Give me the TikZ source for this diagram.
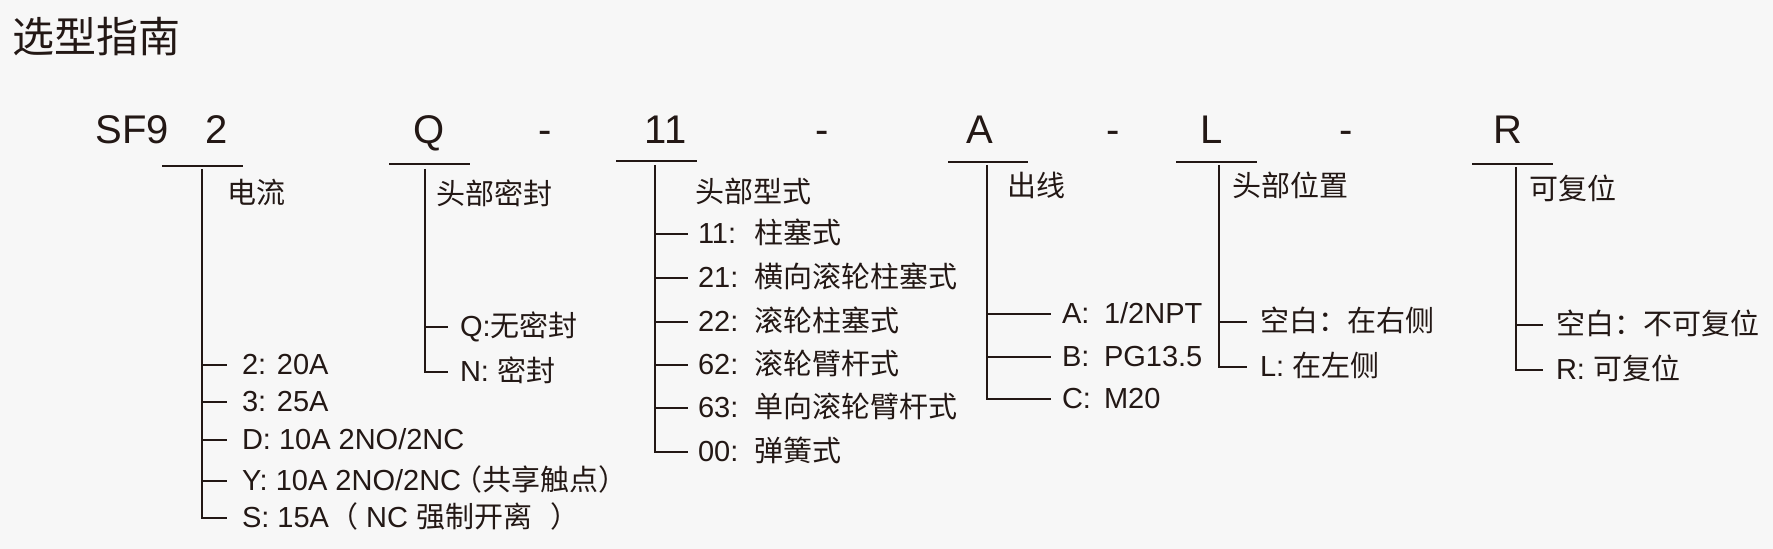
\documentclass[tikz,border=0pt]{standalone}
\usepackage{fontspec}
\setmainfont{Liberation Sans}
\newfontfamily\cjk{Noto Sans CJK SC}
\definecolor{ink}{RGB}{35,24,21}
\definecolor{bg}{RGB}{247,247,247}
\begin{document}
\begin{tikzpicture}[x=0.5pt,y=-0.5pt,
  every node/.style={inner sep=0pt, outer sep=0pt, text=ink},
  hdr/.style={anchor=base, font=\fontsize{20pt}{24pt}\selectfont},
  lbl/.style={anchor=base west, font=\fontsize{14.5pt}{17pt}\selectfont},
  tree/.style={draw=ink, line width=1pt, line join=miter},
]
\fill[bg] (0,0) rectangle (1773,549);
\useasboundingbox (0,0) rectangle (1773,549);

% title
\node[anchor=base west, font=\fontsize{21pt}{25pt}\selectfont\cjk] (title) at (12,53) {选型指南};

% header code
\node[hdr] (sf9) at (132,144) {SF9};
\node[hdr] (h2) at (216.5,144) {2};
\node[hdr] (hQ) at (429,144) {Q};
\node[hdr] (d1) at (545,144) {-};
\node[hdr] (h11) at (665.5,144) {11};
\node[hdr] (d2) at (822,144) {-};
\node[hdr] (hA) at (979.5,144) {A};
\node[hdr] (d3) at (1113.5,144) {-};
\node[hdr] (hL) at (1212,144) {L};
\node[hdr] (d4) at (1346.5,144) {-};
\node[hdr] (hR) at (1507.5,144) {R};

% underlines
\coordinate (u2a) at (162,166);   \coordinate (u2b) at (243,166);
\coordinate (uQa) at (389,164);   \coordinate (uQb) at (470,164);
\coordinate (u11a) at (616,161);  \coordinate (u11b) at (697,161);
\coordinate (uAa) at (948,162);   \coordinate (uAb) at (1028,162);
\coordinate (uLa) at (1176,162);  \coordinate (uLb) at (1257,162);
\coordinate (uRa) at (1472,164);  \coordinate (uRb) at (1553,164);
\draw[tree] (u2a) -- (u2b);
\draw[tree] (uQa) -- (uQb);
\draw[tree] (u11a) -- (u11b);
\draw[tree] (uAa) -- (uAb);
\draw[tree] (uLa) -- (uLb);
\draw[tree] (uRa) -- (uRb);

% ---------- tree 2 : current ----------
\node[lbl] (l2) at (227,204) {\cjk 电流};
\coordinate (t2) at (202,169); \coordinate (e2) at (227,0);
\coordinate (b21) at (202,365); \coordinate (b22) at (202,402);
\coordinate (b23) at (202,440); \coordinate (b24) at (202,481);
\coordinate (b25) at (202,518);
\node[lbl] (i21) at (242,375) {2: 20A};
\node[lbl] (i22) at (242,412) {3: 25A};
\node[lbl] (i23) at (242,450) {D: 10A 2NO/2NC};
\node[lbl] (i24) at (242,491) {Y: 10A 2NO/2NC\hspace{-4pt}{\cjk （共享触点）}};
\node[lbl] (i25) at (242,528) {S: 15A{\cjk （} NC {\cjk 强制开离}\hspace{0.35em} {\cjk ）}};
\draw[tree] (t2) -- (b25) -- (b25 -| e2);
\draw[tree] (b21) -- (b21 -| e2);
\draw[tree] (b22) -- (b22 -| e2);
\draw[tree] (b23) -- (b23 -| e2);
\draw[tree] (b24) -- (b24 -| e2);

% ---------- tree Q : head seal ----------
\node[lbl] (lQ) at (436,205) {\cjk 头部密封};
\coordinate (tQ) at (425,169); \coordinate (eQ) at (448,0);
\coordinate (bQ1) at (425,327); \coordinate (bQ2) at (425,372);
\node[lbl] (iQ1) at (460,337) {Q:{\cjk 无密封}};
\node[lbl] (iQ2) at (460,382) {N: {\cjk 密封}};
\draw[tree] (tQ) -- (bQ2) -- (bQ2 -| eQ);
\draw[tree] (bQ1) -- (bQ1 -| eQ);

% ---------- tree 11 : head type ----------
\node[lbl] (l11) at (695,203) {\cjk 头部型式};
\coordinate (t11) at (655,165); \coordinate (e11) at (688,0);
\coordinate (b111) at (655,234); \coordinate (b112) at (655,278);
\coordinate (b113) at (655,322); \coordinate (b114) at (655,365);
\coordinate (b115) at (655,408); \coordinate (b116) at (655,452);
\node[lbl] (i111) at (698,244) {\makebox[28pt][l]{11:}{\cjk 柱塞式}};
\node[lbl] (i112) at (698,288) {\makebox[28pt][l]{21:}{\cjk 横向滚轮柱塞式}};
\node[lbl] (i113) at (698,332) {\makebox[28pt][l]{22:}{\cjk 滚轮柱塞式}};
\node[lbl] (i114) at (698,375) {\makebox[28pt][l]{62:}{\cjk 滚轮臂杆式}};
\node[lbl] (i115) at (698,418) {\makebox[28pt][l]{63:}{\cjk 单向滚轮臂杆式}};
\node[lbl] (i116) at (698,462) {\makebox[28pt][l]{00:}{\cjk 弹簧式}};
\draw[tree] (t11) -- (b116) -- (b116 -| e11);
\draw[tree] (b111) -- (b111 -| e11);
\draw[tree] (b112) -- (b112 -| e11);
\draw[tree] (b113) -- (b113 -| e11);
\draw[tree] (b114) -- (b114 -| e11);
\draw[tree] (b115) -- (b115 -| e11);

% ---------- tree A : cable outlet ----------
\node[lbl] (lA) at (1007,197) {\cjk 出线};
\coordinate (tA) at (987,165); \coordinate (eA) at (1051,0);
\coordinate (bA1) at (987,314); \coordinate (bA2) at (987,357);
\coordinate (bA3) at (987,399);
\node[lbl] (iA1) at (1062,324) {\makebox[21pt][l]{A:}1/2NPT};
\node[lbl] (iA2) at (1062,367) {\makebox[21pt][l]{B:}PG13.5};
\node[lbl] (iA3) at (1062,409) {\makebox[21pt][l]{C:}M20};
\draw[tree] (tA) -- (bA3) -- (bA3 -| eA);
\draw[tree] (bA1) -- (bA1 -| eA);
\draw[tree] (bA2) -- (bA2 -| eA);

% ---------- tree L : head position ----------
\node[lbl] (lL) at (1232,197) {\cjk 头部位置};
\coordinate (tL) at (1219,165); \coordinate (eL) at (1247,0);
\coordinate (bL1) at (1219,322); \coordinate (bL2) at (1219,367);
\node[lbl] (iL1) at (1260,332) {\cjk 空白：在右侧};
\node[lbl] (iL2) at (1260,377) {L: {\cjk 在左侧}};
\draw[tree] (tL) -- (bL2) -- (bL2 -| eL);
\draw[tree] (bL1) -- (bL1 -| eL);

% ---------- tree R : reset ----------
\node[lbl] (lR) at (1529,200) {\cjk 可复位};
\coordinate (tR) at (1516,167); \coordinate (eR) at (1543,0);
\coordinate (bR1) at (1516,325); \coordinate (bR2) at (1516,370);
\node[lbl] (iR1) at (1556,335) {\cjk 空白：不可复位};
\node[lbl] (iR2) at (1556,380) {R: {\cjk 可复位}};
\draw[tree] (tR) -- (bR2) -- (bR2 -| eR);
\draw[tree] (bR1) -- (bR1 -| eR);
\end{tikzpicture}
\end{document}
